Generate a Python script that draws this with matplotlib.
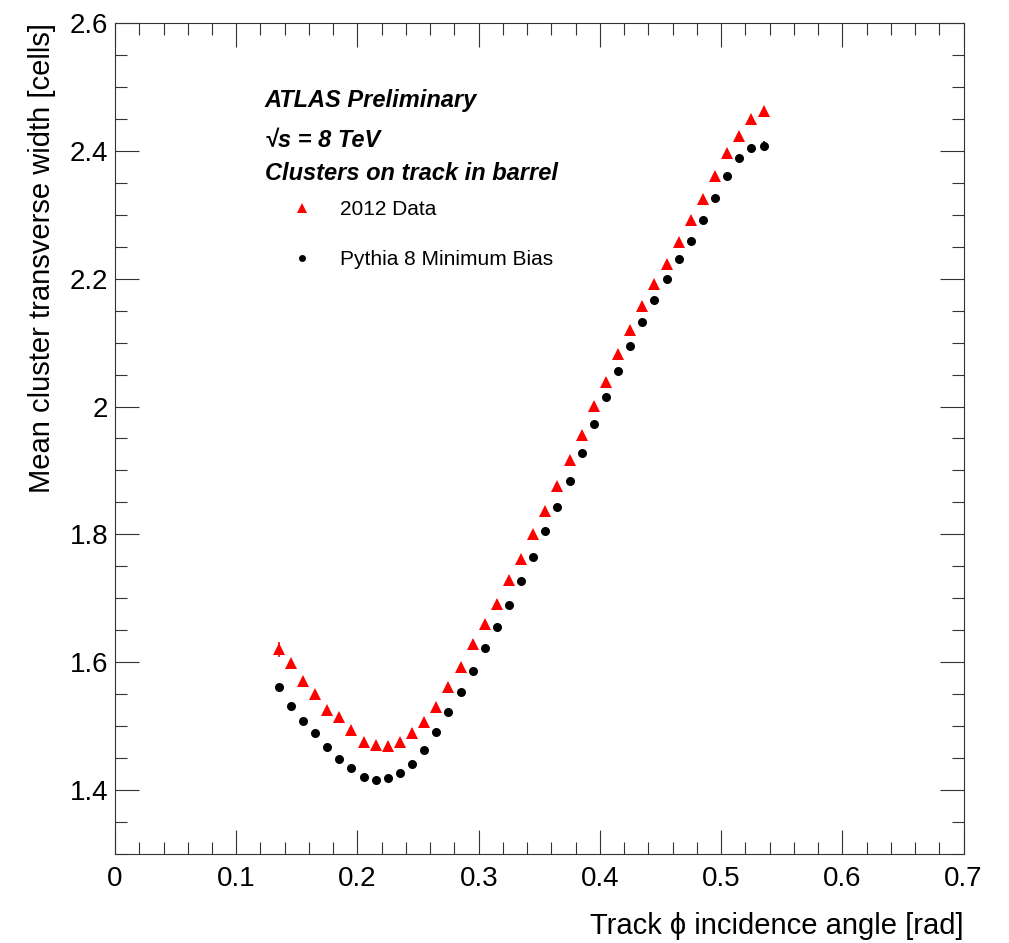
import matplotlib
matplotlib.use('Agg')
import matplotlib.pyplot as plt
from matplotlib.lines import Line2D
import numpy as np

plt.rcParams['font.family'] = ['Liberation Sans', 'DejaVu Sans']

# track phi incidence angle bins [rad]
phi = np.round(np.arange(0.135, 0.536, 0.01), 3)

# 2012 data
data_y = [1.620, 1.599, 1.571, 1.551, 1.525, 1.514, 1.494, 1.475, 1.471, 1.469,
          1.475, 1.489, 1.507, 1.530, 1.562, 1.593, 1.628, 1.660, 1.691, 1.728,
          1.762, 1.800, 1.836, 1.875, 1.916, 1.955, 2.001, 2.038, 2.082, 2.120,
          2.157, 2.191, 2.223, 2.258, 2.292, 2.325, 2.360, 2.396, 2.423, 2.450,
          2.463]
data_err = [0.012] + [0.002] * 40

# Pythia 8 minimum bias
mc_y = [1.561, 1.532, 1.508, 1.489, 1.468, 1.448, 1.435, 1.420, 1.416, 1.419,
        1.427, 1.440, 1.462, 1.491, 1.522, 1.553, 1.587, 1.622, 1.655, 1.690,
        1.727, 1.764, 1.805, 1.843, 1.884, 1.928, 1.972, 2.015, 2.056, 2.094,
        2.132, 2.166, 2.199, 2.231, 2.259, 2.292, 2.327, 2.361, 2.389, 2.404,
        2.407]
mc_err = [0.002] * 40 + [0.008]

fig = plt.figure(figsize=(10.09, 9.43), dpi=100)
ax = fig.add_axes([0.114, 0.0944, 0.841, 0.8812])

# error bars first, markers on top
ax.errorbar(phi, data_y, yerr=data_err, fmt='none', ecolor='#ff0000', elinewidth=1.2)
ax.errorbar(phi, mc_y, yerr=mc_err, fmt='none', ecolor='black', elinewidth=1.2)
ax.plot(phi, data_y, '^', color='#ff0000', ms=8.5, mew=0)
ax.plot(phi, mc_y, 'o', color='black', ms=6.5, mew=0)

ax.set_xlim(0, 0.7)
ax.set_ylim(1.3, 2.6)
ax.set_xticks(np.arange(0, 0.71, 0.1))
ax.set_xticklabels(['0', '0.1', '0.2', '0.3', '0.4', '0.5', '0.6', '0.7'])
ax.set_xticks(np.arange(0, 0.701, 0.02), minor=True)
ax.set_yticks([1.4, 1.6, 1.8, 2.0, 2.2, 2.4, 2.6])
ax.set_yticklabels(['1.4', '1.6', '1.8', '2', '2.2', '2.4', '2.6'])
ax.set_yticks(np.arange(1.3, 2.601, 0.05), minor=True)

ax.tick_params(which='both', direction='in', top=True, right=True,
               color='#333333', width=0.8)
ax.tick_params(which='major', length=17, labelsize=20)
ax.tick_params(which='minor', length=8.5)
ax.tick_params(axis='x', which='major', pad=9)
ax.tick_params(axis='y', which='major', pad=5)
for s in ax.spines.values():
    s.set_linewidth(0.8)
    s.set_color('#333333')

ax.set_xlabel('Track \u03d5 incidence angle [rad]', fontsize=21, loc='right', labelpad=14)
ax.set_ylabel('Mean cluster transverse width [cells]', fontsize=21, loc='top', labelpad=10)

ax.text(0.1767, 0.899, 'ATLAS Preliminary', transform=ax.transAxes,
        fontsize=17, fontweight='bold', fontstyle='italic')
ax.text(0.1767, 0.851, '\u221as = 8 TeV', transform=ax.transAxes,
        fontsize=17, fontweight='bold', fontstyle='italic')
ax.text(0.1767, 0.811, 'Clusters on track in barrel', transform=ax.transAxes,
        fontsize=17, fontweight='bold', fontstyle='italic')

handles = [Line2D([], [], ls='none', marker='^', color='#ff0000', ms=7, mew=0),
           Line2D([], [], ls='none', marker='o', color='black', ms=5, mew=0)]
ax.legend(handles, ['2012 Data', 'Pythia 8 Minimum Bias'], loc='upper left',
          bbox_to_anchor=(0.1955, 0.787), frameon=False, fontsize=15,
          numpoints=1, handlelength=2.0, handletextpad=0.83,
          labelspacing=1.5, borderpad=0, borderaxespad=0)

fig.savefig('out.png', dpi=100)
